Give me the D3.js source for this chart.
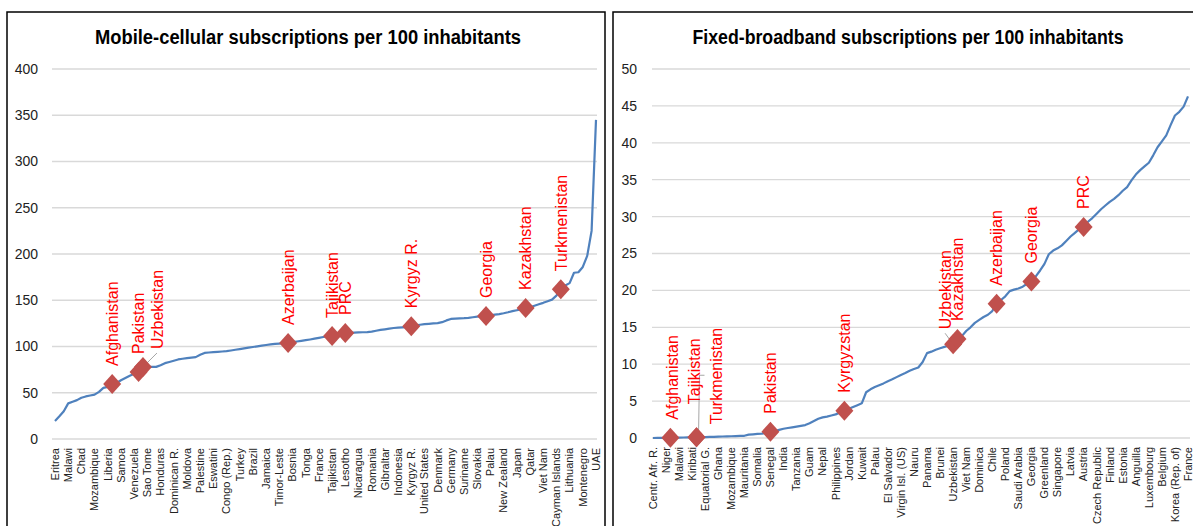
<!DOCTYPE html>
<html>
<head>
<meta charset="utf-8">
<script src="https://cdn.jsdelivr.net/npm/d3@7"></script>
<style>
  html, body { margin: 0; padding: 0; background: #fff; }
  svg { display: block; }
</style>
</head>
<body>
<svg id="chart" width="1193" height="526"></svg>
<script>
// ---------------- DATA ----------------
const mobileTitle = "Mobile-cellular subscriptions per 100 inhabitants";
const broadbandTitle = "Fixed-broadband subscriptions per 100 inhabitants";

// Countries sorted by value; one labelled category every third point
const mobileTickLabels = ["Eritrea","Malawi","Chad","Mozambique","Liberia","Samoa","Venezuela","Sao Tome","Honduras","Dominican R.","Moldova","Palestine","Eswatini","Congo (Rep.)","Turkey","Brazil","Jamaica","Timor-Leste","Bosnia","Tonga","France","Tajikistan","Lesotho","Nicaragua","Romania","Gibraltar","Indonesia","Kyrgyz R.","United States","Denmark","Germany","Suriname","Slovakia","Palau","New Zealand","Japan","Qatar","Viet Nam","Cayman Islands","Lithuania","Montenegro","UAE"];

const mobileValues = [19.5,24.5,30,38.5,40.2,42,44.6,46,47,48,
  51,55.3,56.4,59.5,60.5,63.5,66,68.4,70.5,72.4,
  77.8,77.9,78,78,79.8,82,83.3,84.6,86,86.8,
  87.5,88,88.5,91,93.1,93.5,93.9,94.2,94.6,95,
  95.7,96.5,97.2,98,98.7,99.5,100.2,101,101.6,102.3,
  102.9,103.2,103.5,103.8,104.7,105.4,106.1,106.8,107.6,108.5,
  109.4,110.3,111,111.4,112.7,113.6,114.6,114.8,115,115.2,
  115.4,115.6,116,117,117.9,118.6,119.4,120,120.3,120.6,
  120.9,122,122.8,123.5,124.1,124.5,124.9,125.2,126.3,128.2,
  129.8,130.1,130.4,130.6,131,131.6,132.2,132.7,133,133.8,
  134.4,135,135.9,137,138.3,139.2,140.2,141.6,142.4,144,
  145.6,147.2,149,150.7,155,162,166,168.5,179.7,180.3,
  186,198,225,345];

const mobileHighlightNames = ["Afghanistan","Pakistan","Uzbekistan","Azerbaijan","Tajikistan","PRC","Kyrgyz R.","Georgia","Kazakhstan","Turkmenistan"];
const mobileHighlightIndex = [13,19,20,53,63,66,81,98,107,115];

const broadbandTickLabels = ["Centr. Afr. R.","Niger","Malawi","Kiribati","Equatorial G.","Ghana","Mozambique","Mauritania","Somalia","Senegal","India","Tanzania","Guam","Nepal","Philippines","Jordan","Kuwait","Palau","El Salvador","Virgin Isl. (US)","Nauru","Panama","Brunei","Uzbekistan","Viet Nam","Dominica","Chile","Poland","Saudi Arabia","Georgia","Greenland","Singapore","Latvia","Austria","Czech Republic","Finland","Estonia","Anguilla","Luxembourg","Belgium","Korea (Rep. of)","France"];

const broadbandValues = [0,0.01,0.02,0.03,0.04,0.05,0.06,0.07,0.08,0.09,
  0.1,0.11,0.12,0.14,0.16,0.18,0.2,0.22,0.24,0.26,
  0.28,0.3,0.45,0.5,0.55,0.6,0.68,0.85,0.95,1.1,
  1.25,1.35,1.45,1.55,1.65,1.75,2.0,2.3,2.6,2.8,
  2.9,3.05,3.2,3.45,3.7,3.95,4.2,4.45,4.7,6.2,
  6.6,6.9,7.15,7.4,7.7,7.95,8.25,8.55,8.8,9.1,
  9.35,9.55,10.3,11.5,11.7,11.95,12.15,12.35,12.5,12.7,
  13.4,13.8,14.5,15.0,15.6,16.0,16.4,16.7,17.2,18.2,
  18.7,19.2,19.9,20.1,20.25,20.5,20.9,21.2,21.9,22.7,
  23.6,24.9,25.4,25.7,26.1,26.7,27.3,27.8,28.3,28.6,
  29.3,29.8,30.4,31.0,31.5,32.0,32.4,32.9,33.5,34.0,
  34.9,35.7,36.3,36.8,37.3,38.3,39.4,40.2,41.0,42.4,
  43.7,44.2,44.9,46.3];

const broadbandHighlightNames = ["Afghanistan","Tajikistan","Turkmenistan","Pakistan","Kyrgyzstan","Uzbekistan","Kazakhstan","Azerbaijan","Georgia","PRC"];
const broadbandHighlightIndex = [4,10,10,27,44,69,70,79,87,99];

const mobileYTicks = [0,50,100,150,200,250,300,350,400];
const broadbandYTicks = [0,5,10,15,20,25,30,35,40,45,50];

// ---------------- LAYOUT / STYLE ----------------
const LABEL_EVERY = 3;
const lineColor = "#4F81BD";
const markerColor = "#C0504D";
const labelColor = "#FF0000";
const gridColor = "#D9D9D9";

// label placement tweaks (px offsets from the marker)
const mobileLabelTweaks = { "Uzbekistan": {dx: 14, gap: 18, leader: true} };
const broadbandLabelTweaks = {
  "Afghanistan": {dx: 2, gap: 18},
  "Tajikistan": {dx: -2, gap: 33},
  "Turkmenistan": {dx: 20, gap: 13},
  "Uzbekistan": {dx: -8, gap: 15, leader: true}
};

const svg = d3.select("#chart");
const FONT = "'Liberation Sans', Arial, sans-serif";

function panel(opts) {
  const g = svg.append("g");
  // frame
  g.append("rect")
    .attr("x", opts.frame[0]).attr("y", 12)
    .attr("width", opts.frame[1] - opts.frame[0]).attr("height", 540)
    .attr("fill", "none").attr("stroke", "#000").attr("stroke-width", 1.5);

  const y = d3.scaleLinear().domain(opts.yDomain).range(opts.yRange);
  const x = d3.scalePoint().domain(d3.range(opts.values.length)).range(opts.xRange);

  // title
  g.append("text")
    .attr("x", opts.titleX).attr("y", 44)
    .attr("text-anchor", "middle")
    .attr("font-family", FONT).attr("font-weight", "bold").attr("font-size", 20)
    .attr("textLength", opts.titleLen).attr("lengthAdjust", "spacingAndGlyphs")
    .attr("fill", "#000")
    .text(opts.title);

  // gridlines + y labels
  g.selectAll(".grid").data(opts.yTicks).enter().append("line")
    .attr("x1", opts.gridX[0]).attr("x2", opts.gridX[1])
    .attr("y1", d => y(d)).attr("y2", d => y(d))
    .attr("stroke", gridColor).attr("stroke-width", 1.3);
  g.selectAll(".ylab").data(opts.yTicks).enter().append("text")
    .attr("x", opts.yLabelX).attr("y", d => y(d)).attr("dy", "0.35em")
    .attr("text-anchor", "end")
    .attr("font-family", FONT).attr("font-size", 14).attr("fill", "#222")
    .text(d => d);

  // x tick labels (every LABEL_EVERY-th category)
  const tickIdx = opts.tickLabels.map((_, k) => k * LABEL_EVERY);
  g.selectAll(".xlab").data(tickIdx).enter().append("text")
    .attr("transform", d => `translate(${x(d)},${opts.yRange[0] + 9}) rotate(-90)`)
    .attr("dy", "0.35em").attr("text-anchor", "end")
    .attr("font-family", FONT).attr("font-size", 11).attr("fill", "#222")
    .text((d, k) => opts.tickLabels[k]);

  // series line
  const line = d3.line().x((d, i) => x(i)).y(d => y(d));
  g.append("path").datum(opts.values)
    .attr("d", line).attr("fill", "none")
    .attr("stroke", lineColor).attr("stroke-width", 2.2)
    .attr("stroke-linejoin", "round");

  // highlights
  const hl = opts.hlNames.map((n, k) => ({name: n, i: opts.hlIndex[k], v: opts.values[opts.hlIndex[k]]}));

  // leader lines
  hl.forEach(d => {
    const t = opts.tweaks[d.name];
    const mx = x(d.i), my = y(d.v);
    if (t && t.leader) {
      g.append("line")
        .attr("x1", mx).attr("y1", my)
        .attr("x2", mx + t.dx).attr("y2", my - t.gap + 4)
        .attr("stroke", "#A6A6A6").attr("stroke-width", 1);
    }
  });
  if (opts.extraLeader) opts.extraLeader(g, x, y);

  g.selectAll(".mk").data(hl).enter().append("path")
    .attr("transform", d => `translate(${x(d.i)},${y(d.v)})`)
    .attr("d", "M0,-10L9,0L0,10L-9,0Z")
    .attr("fill", markerColor);

  g.selectAll(".hl").data(hl).enter().append("text")
    .attr("transform", d => {
      const t = opts.tweaks[d.name] || {};
      const dx = t.dx || 0, gap = t.gap || 18;
      return `translate(${x(d.i) + dx},${y(d.v) - gap}) rotate(-90)`;
    })
    .attr("dy", "0.36em").attr("text-anchor", "start")
    .attr("font-family", FONT).attr("font-size", 16).attr("fill", labelColor)
    .text(d => d.name);
}

panel({
  frame: [7, 605],
  title: mobileTitle, titleX: 308, titleLen: 426,
  values: mobileValues, tickLabels: mobileTickLabels,
  yDomain: [0, 400], yRange: [439, 69], yTicks: mobileYTicks,
  xRange: [55, 596], gridX: [52, 597], yLabelX: 38,
  hlNames: mobileHighlightNames, hlIndex: mobileHighlightIndex,
  tweaks: mobileLabelTweaks
});

panel({
  frame: [613, 1200],
  title: broadbandTitle, titleX: 908, titleLen: 431,
  values: broadbandValues, tickLabels: broadbandTickLabels,
  yDomain: [0, 50], yRange: [438, 69], yTicks: broadbandYTicks,
  xRange: [653, 1188], gridX: [652, 1190], yLabelX: 637,
  hlNames: broadbandHighlightNames, hlIndex: broadbandHighlightIndex,
  tweaks: broadbandLabelTweaks,
  extraLeader: (g, x, y) => {
    const i = broadbandHighlightIndex[broadbandHighlightNames.indexOf("Turkmenistan")];
    const mx = x(i), my = y(broadbandValues[i]);
    g.append("path")
      .attr("d", `M${mx + 2},${my} L${mx + 3},${my - 62} L${mx + 8},${my - 62}`)
      .attr("fill", "none").attr("stroke", "#A6A6A6").attr("stroke-width", 1);
  }
});
</script>
</body>
</html>
